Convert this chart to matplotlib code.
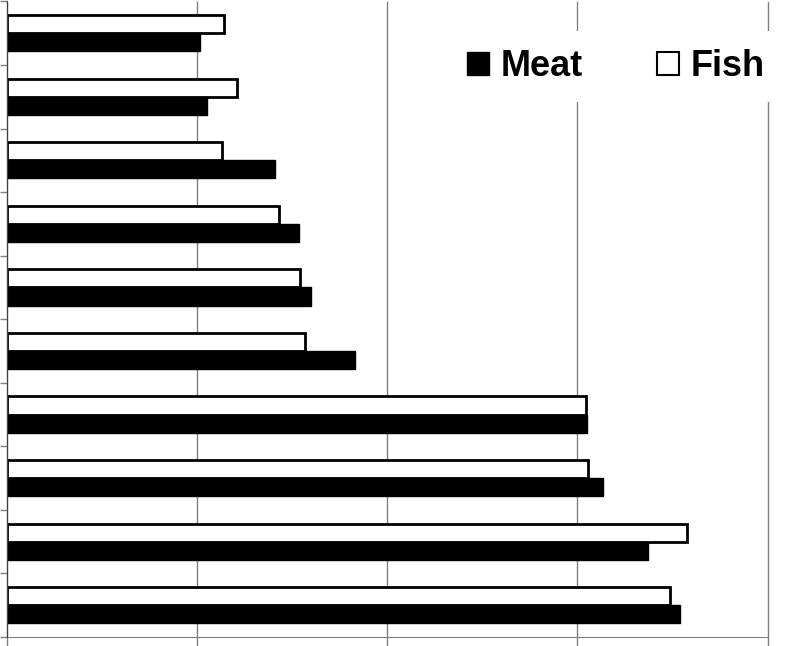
import matplotlib
matplotlib.use('Agg')
import matplotlib.pyplot as plt
import numpy as np
from matplotlib.patches import Patch

# groups from top to bottom (no labels shown in the picture)
groups = list(range(1, 11))
meat = [10.15, 10.52, 14.11, 15.35, 16.00, 18.28, 30.48, 31.34, 33.70, 35.38]
fish = [11.41, 12.09, 11.32, 14.29, 15.40, 15.70, 30.46, 30.56, 35.75, 34.89]
xgrid = [0, 10, 20, 30, 40]

GRID = '#808080'

fig = plt.figure(figsize=(7.99, 6.46), dpi=100)
ax = fig.add_axes([7 / 799, 9 / 646, 760.5 / 799, 635.5 / 646])

pos = np.arange(len(groups))
h = 0.285
ax.barh(pos - h / 2, fish, height=h, color='white', edgecolor='black', linewidth=2, zorder=3)
ax.barh(pos + h / 2, meat, height=h, color='black', edgecolor='black', linewidth=1, zorder=3)

ax.set_xlim(0, 40)
ax.set_ylim(len(groups) - 0.5, -0.5)
ax.set_xticks(xgrid)
ax.set_xticklabels([])
ax.set_yticks(np.arange(-0.5, len(groups), 1.0))
ax.set_yticklabels([])
ax.tick_params(axis='x', direction='out', length=9, color=GRID, width=1)
ax.tick_params(axis='y', direction='out', length=5, color=GRID, width=1)
ax.grid(axis='x', color=GRID, linewidth=1, zorder=0)
for line in ax.get_xgridlines():
    line.set_clip_on(False)
for side in ['top', 'right']:
    ax.spines[side].set_visible(False)
ax.spines['bottom'].set_color(GRID)
ax.spines['left'].set_color('#404040')
ax.spines['left'].set_zorder(4)

handles = [
    Patch(facecolor='black', edgecolor='black', label='Meat'),
    Patch(facecolor='white', edgecolor='black', linewidth=1.5, label='Fish'),
]
leg = fig.legend(handles=handles, loc='upper right', bbox_to_anchor=(801 / 799, 1 - 13 / 646),
                 ncol=2, frameon=True, fancybox=False, framealpha=1,
                 prop={'family': 'Liberation Sans', 'weight': 'bold', 'size': 26},
                 handlelength=0.6, handleheight=0.63, handletextpad=0.33,
                 columnspacing=2.05, borderpad=0.5)
leg.get_frame().set_facecolor('white')
leg.get_frame().set_edgecolor('none')

fig.savefig('out.png', dpi=100)
